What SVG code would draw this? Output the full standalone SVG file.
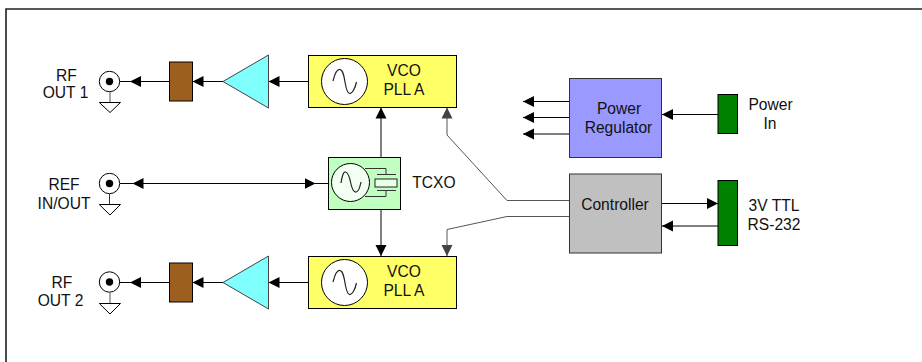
<svg xmlns="http://www.w3.org/2000/svg" width="922" height="362" viewBox="0 0 922 362">
<style>
text{font-family:"Liberation Sans",Arial,sans-serif;font-size:15.6px;fill:#111;text-anchor:middle}
.k{stroke:#000;stroke-width:1;fill:none}
.g{stroke:#555;stroke-width:1;fill:none}
.ka{marker-end:url(#ak)}
.km{marker-mid:url(#ak)}
.ga{marker-end:url(#ag)}
.b{stroke:#000;stroke-width:1}
.w{fill:#fff;stroke:#000;stroke-width:1}
.s{fill:none;stroke:#222;stroke-width:1.2}
</style>
<defs>
<marker id="ak" markerUnits="userSpaceOnUse" markerWidth="12" markerHeight="12" refX="11" refY="6" orient="auto"><path d="M0 .5L11 6L0 11.5Z" fill="#000"/></marker>
<marker id="ag" markerUnits="userSpaceOnUse" markerWidth="12" markerHeight="12" refX="11" refY="6" orient="auto"><path d="M0 .5L11 6L0 11.5Z" fill="#444"/></marker>
</defs>
<rect width="922" height="362" fill="#fff"/>
<path d="M6 362V9H922" fill="none" stroke="#222" stroke-width="1.6"/>
<g id="connectors">
<path class="k km" d="M169 81.500H130H120"/>
<path class="k ka" d="M223 81.500H192.500"/>
<path class="k ka" d="M308 81.500H268.500"/>
<path class="k km" d="M169 282.500H130H120"/>
<path class="k ka" d="M223 282.500H192.500"/>
<path class="k ka" d="M308 282.500H268.500"/>
<path class="k km" d="M315.500 183.500H132.500H120"/>
<path class="k km" d="M132.500 183.500H315.500H328"/>
<path class="k ka" d="M381 157V107.500"/>
<path class="k ka" d="M381 209.500V256"/>
<path class="g ga" d="M569 200.500H507L447 135V107.500"/>
<path class="g ga" d="M569 216.500H507L447 229.500V256"/>
<path class="k ka" d="M569 101.500H523"/>
<path class="k ka" d="M569 117.500H523"/>
<path class="k ka" d="M569 134H523"/>
<path class="k ka" d="M718 114.500H662"/>
<path class="k ka" d="M662 203.500H718"/>
<path class="k ka" d="M718 226H662"/>
</g>
<g id="rf1-conn"><circle class="w" cx="109.500" cy="81.500" r="10.200"/><circle cx="109.500" cy="81.500" r="3.700"/><path d="M110 92V102" stroke="#555" fill="none"/><path class="w" d="M99.300 102.500H120.500L110 112.500Z"/><text x="66.500" y="81">RF</text><text x="65.500" y="98">OUT 1</text></g>
<g id="ref-conn"><circle class="w" cx="109.500" cy="183.500" r="10.200"/><circle cx="109.500" cy="183.500" r="3.700"/><path d="M109.500 194V204" stroke="#333" fill="none"/><path class="w" d="M99.300 204.500H120.500L110 215Z"/><text x="64" y="189.500">REF</text><text x="64" y="209">IN/OUT</text></g>
<g id="rf2-conn"><circle class="w" cx="109.500" cy="282" r="10.200"/><circle cx="109.500" cy="282" r="3.700"/><path d="M110 292.500V303" stroke="#555" fill="none"/><path class="w" d="M99.300 303.500H120.500L110 314Z"/><text x="62" y="287.500">RF</text><text x="60.500" y="306">OUT 2</text></g>
<g id="filter1"><rect class="b" x="169.500" y="62" width="23" height="39" fill="#9c5f20"/></g>
<g id="filter2"><rect class="b" x="169.500" y="263" width="23" height="39" fill="#9c5f20"/></g>
<g id="amp1"><path d="M223 81.500L268.500 55V108Z" fill="#80ffff" stroke="#444"/></g>
<g id="amp2"><path d="M223 282.500L268.500 256V309Z" fill="#80ffff" stroke="#444"/></g>
<g id="vco1"><rect class="b" x="308.500" y="55.500" width="148" height="52" fill="#ffff66"/><circle class="w" cx="344.500" cy="81.500" r="23"/><path class="s" d="M333 81C335 73 337 69 340 69.500C343 70 344 76 345 82C346 88 347 93 349.500 93.500C352 94 355 89 356.500 82"/><text x="404" y="76">VCO</text><text x="404" y="95">PLL A</text></g>
<g id="vco2"><rect class="b" x="308.500" y="256.500" width="148" height="52" fill="#ffff66"/><circle class="w" cx="344.500" cy="282.500" r="23"/><path class="s" d="M333 282C335 274 337 270 340 270.500C343 271 344 277 345 283C346 289 347 294 349.500 294.500C352 295 355 290 356.500 283"/><text x="404" y="277">VCO</text><text x="404" y="296">PLL A</text></g>
<g id="tcxo"><rect class="b" x="328.500" y="157.500" width="72" height="52" fill="#c0ffc0"/><circle cx="350.500" cy="182.500" r="19" fill="#f4fff4" stroke="#000"/><path class="s" d="M341 183C342 176 343.500 171.500 345.500 172C348 172.500 349.500 177 350.500 182C351.500 187 353 191.500 355.500 192C358 192.500 360 187 361 182"/><path d="M365 168.500H386V174M365 196.500H386V190.500M377 174.500H396M377 190.500H396" fill="none" stroke="#333"/><rect x="375" y="179" width="22" height="8" fill="#e8ffe8" stroke="#222"/><text x="434" y="188">TCXO</text></g>
<g id="regulator"><rect x="569.500" y="78.500" width="92" height="79" fill="#9999ff" stroke="#333"/><text x="619" y="114">Power</text><text x="618.500" y="133">Regulator</text></g>
<g id="controller"><rect x="569.500" y="174" width="92" height="79" fill="#c0c0c0" stroke="#333"/><text x="615" y="210">Controller</text></g>
<g id="power-in"><rect class="b" x="718" y="94.500" width="19.500" height="39" fill="#008000"/><text x="770.500" y="110">Power</text><text x="770" y="128.500">In</text></g>
<g id="ttl"><rect class="b" x="718" y="180.500" width="19.500" height="65" fill="#008000"/><text x="774" y="211">3V TTL</text><text x="774" y="229.500">RS-232</text></g>
</svg>
